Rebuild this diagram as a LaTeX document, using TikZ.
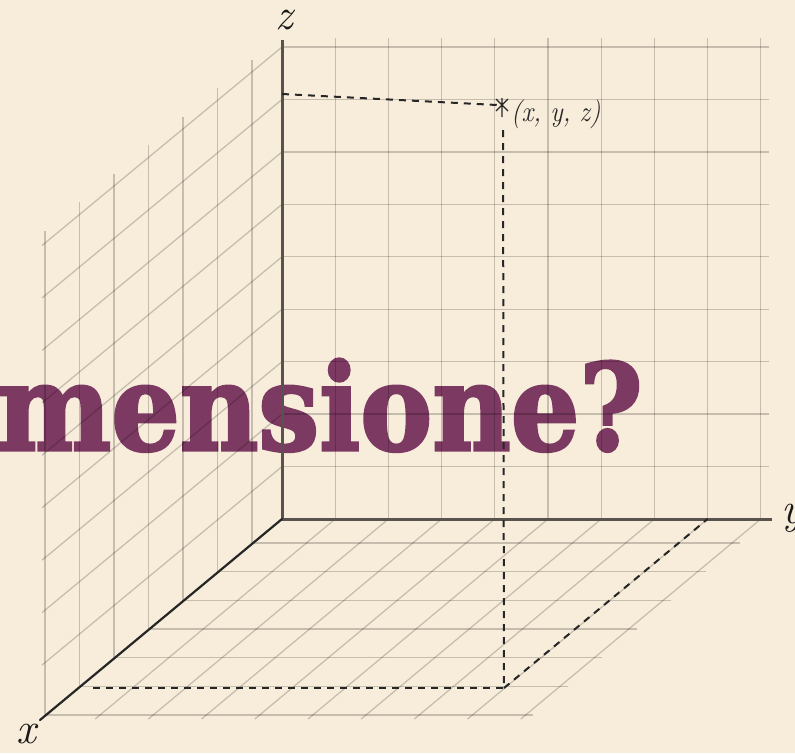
\documentclass[tikz,border=0pt]{standalone}
\usepackage{fontspec}
\usetikzlibrary{calc}
\newfontfamily\titlefont[FakeBold=2.5]{DejaVu Serif Bold}
\definecolor{bgbeige}{RGB}{248,237,218}
\definecolor{titlepurple}{RGB}{124,58,98}
\definecolor{axisgray}{RGB}{88,83,78}
\begin{document}
\begin{tikzpicture}[x=1pt,y=-1pt,
  gridline/.style={draw=black, draw opacity=0.2, line width=1.3pt},
  axisline/.style={draw=axisgray, line width=3pt},
  xaxisline/.style={draw=black!85, line width=2.2pt},
  dashline/.style={draw=black!85, line width=2pt, dash pattern=on 7pt off 6pt},
  axlabel/.style={font=\fontsize{44}{44}\selectfont\itshape, inner sep=0pt, text=black!90}]
\fill[bgbeige] (0,0) rectangle (795,753);
\useasboundingbox (0,0) rectangle (795,753);
\clip (0,0) rectangle (795,753);

% title text (behind the grid)
\node[anchor=base east, inner sep=0pt, text=titlepurple,
      font=\titlefont\fontsize{120}{120}\selectfont] (title) at (643,450)
      {\scalebox{0.9}[1]{mensione?}};

% back wall (yz plane)
\foreach \i in {1,...,9} \draw[gridline] ({282+53.2*\i},519) -- ({282+53.2*\i},38);
\foreach \j in {1,...,9} \draw[gridline] (282,{519-52.44*\j}) -- (769,{519-52.44*\j});
% left wall (xz plane)
\foreach \j in {1,...,9} \draw[gridline] (282,{519-52.44*\j}) -- ++(-240,198.5);
\foreach \m in {0,...,6} \draw[gridline] ({45+34.5*\m},{519+(237-34.5*\m)*0.827}) -- ({45+34.5*\m},{35+(237-34.5*\m)*0.827});
% floor (xy plane)
\foreach \m in {0,...,6} \draw[gridline] ({45+34.5*\m},{715-28.67*\m}) -- ++(488,0);
\foreach \i in {1,...,9} \draw[gridline] ({282+53.2*\i},519) -- ++(-240,200);

% axes
\coordinate (O) at (282,519);
\coordinate (Ztop) at (282,40);
\coordinate (Yend) at (772,519);
\coordinate (Xend) at (40,720);
\draw[axisline] (Ztop) -- (O) -- (Yend);
\draw[xaxisline, line cap=round] (O) -- (Xend);

% point and projections
\coordinate (P) at (502,105);
\coordinate (Zp) at (282,94);
\coordinate (Pl) at (497,105);
\coordinate (Pv) at (503,130);
\coordinate (F) at (504,688);
\coordinate (Xp) at (93,688);
\coordinate (Yp) at (707.6,519);
\draw[dashline] (Zp) -- (Pl);
\draw[dashline] (Pv) -- (F);
\draw[dashline] (Xp) -- (F);
\draw[dashline] (F) -- (Yp);
\draw[black!85, line width=1.3pt] ($(P)+(-6,-6)$) -- ($(P)+(6,6)$)
  ($(P)+(-6,6)$) -- ($(P)+(6,-6)$) ($(P)+(0,-7)$) -- ($(P)+(0,12)$);

% labels
\node[anchor=base west, inner sep=0pt, font=\fontsize{29}{29}\selectfont\itshape, text=black!85] (plabel) at (511,121) {\scalebox{0.9}[1]{(x, y, z)}};
\node[axlabel, anchor=base] (zlabel) at (284,29) {z};
\node[axlabel, anchor=base] (xlabel) at (26,743) {x};
\node[axlabel, anchor=base west] (ylabel) at (781,523) {y};
\end{tikzpicture}
\end{document}
